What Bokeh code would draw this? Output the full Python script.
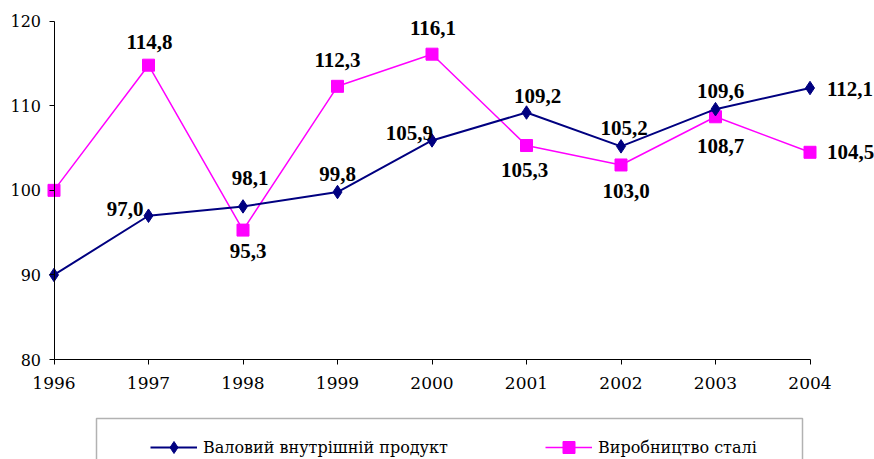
from bokeh.plotting import figure
from bokeh.models import (ColumnDataSource, FixedTicker, Legend, LegendItem,
                          BoxAnnotation, Range1d)
from bokeh.core.properties import value
from bokeh.embed import file_html
from bokeh.resources import INLINE

# ---------------- data ----------------
years = [1996, 1997, 1998, 1999, 2000, 2001, 2002, 2003, 2004]
gdp = [90.0, 97.0, 98.1, 99.8, 105.9, 109.2, 105.2, 109.6, 112.1]
steel = [100.0, 114.8, 95.3, 112.3, 116.1, 105.3, 103.0, 108.7, 104.5]
series_names = ["Валовий внутрішній продукт", "Виробництво сталі"]
y_ticks = [80, 90, 100, 110, 120]

# label placement (screen px offsets relative to each point, 1997..2004)
gdp_lbl_dx = [-5, 7, 0, 1, 11, 3, 5, 17]
gdp_lbl_dy = [-7, -28, -18, -7, -17, -18, -18, 1]
gdp_lbl_al = ["right", "center", "center", "right", "center", "center", "center", "left"]
steel_lbl_dx = [1, 5, 0, 1, -2, 5, 5, 17]
steel_lbl_dy = [-23, 21, -26, -26, 24, 26, 29, 0]
steel_lbl_al = ["center"] * 7 + ["left"]

# ---------------- layout ----------------
W, H = 874, 459
X0, X1 = 53.5, 809.5      # pixel of first / last year
Y_TOP, Y_BOT = 20.7, 359.0  # pixel of 120 / 80
px = (X1 - X0) / (years[-1] - years[0])
py = (Y_BOT - Y_TOP) / (y_ticks[-1] - y_ticks[0])
x_start = years[0] - X0 / px
x_end = years[-1] + (W - X1) / px
y_end = y_ticks[-1] + Y_TOP / py
y_start = y_ticks[0] - (H - Y_BOT) / py


def fx(pix):
    return x_start + pix / px


def fy(pix):
    return y_end - pix / py


FONT = "'Liberation Serif', 'Times New Roman', serif"
AXFONT = "DejaVu Serif"
NAVY = "#000080"
MAG = "#FF00FF"

p = figure(width=W, height=H, output_backend="svg", toolbar_location=None,
           x_range=Range1d(x_start, x_end), y_range=Range1d(y_start, y_end),
           min_border_left=0, min_border_right=0, min_border_top=0,
           min_border_bottom=0, title=None)
p.outline_line_color = None
p.xgrid.visible = False
p.ygrid.visible = False
p.background_fill_color = "white"
p.border_fill_color = "white"

# axes
xa = p.xaxis[0]
xa.fixed_location = y_ticks[0]
xa.bounds = (years[0], years[-1])
xa.ticker = FixedTicker(ticks=years)
xa.minor_tick_line_color = None
xa.major_tick_in = 0
xa.major_tick_out = 5
xa.axis_line_color = "black"
xa.major_tick_line_color = "black"
xa.major_label_text_font = AXFONT
xa.major_label_text_font_size = "17px"
xa.major_label_text_color = "black"
xa.major_label_standoff = 12

ya = p.yaxis[0]
ya.fixed_location = years[0]
ya.bounds = (y_ticks[0], y_ticks[-1])
ya.ticker = FixedTicker(ticks=y_ticks)
ya.minor_tick_line_color = None
ya.major_tick_in = 0
ya.major_tick_out = 5
ya.axis_line_color = "black"
ya.major_tick_line_color = "black"
ya.major_label_text_font = AXFONT
ya.major_label_text_font_size = "16px"
ya.major_label_text_color = "black"
ya.major_label_standoff = 8

# series
src_g = ColumnDataSource(dict(x=years, y=gdp))
src_s = ColumnDataSource(dict(x=years, y=steel))

sl = p.line("x", "y", source=src_s, line_color=MAG, line_width=1.5)
ss = p.scatter("x", "y", source=src_s, marker="square", size=12,
               fill_color=MAG, line_color=MAG)
gl = p.line("x", "y", source=src_g, line_color=NAVY, line_width=2)
gs = p.scatter("x", "y", source=src_g, marker="diamond",
               size=13.5, fill_color=NAVY, line_color=NAVY)


def fmt(v):
    return f"{v:.1f}".replace(".", ",")


lab_g = ColumnDataSource(dict(x=years[1:], y=gdp[1:], t=[fmt(v) for v in gdp[1:]],
                              dx=gdp_lbl_dx, dy=gdp_lbl_dy, al=gdp_lbl_al))
lab_s = ColumnDataSource(dict(x=years[1:], y=steel[1:], t=[fmt(v) for v in steel[1:]],
                              dx=steel_lbl_dx, dy=steel_lbl_dy, al=steel_lbl_al))
for src in (lab_g, lab_s):
    p.text("x", "y", text="t", source=src, x_offset="dx", y_offset="dy",
           text_align="al", text_baseline="middle",
           text_font=value(FONT), text_font_style="bold",
           text_font_size="21px", text_color="black")

# legend box (bottom edge falls outside the picture)
box = BoxAnnotation(left=fx(96), right=fx(802), top=fy(418), bottom=fy(490),
                    fill_alpha=0, line_color="black", line_width=1.5)
p.add_layout(box)

for label, rends, loc in ((series_names[0], [gl, gs], (150, -3)),
                          (series_names[1], [sl, ss], (545, -3))):
    lg = Legend(items=[LegendItem(label=label, renderers=rends)],
                location=loc, orientation="horizontal",
                padding=0, margin=0, spacing=0,
                glyph_width=47, glyph_height=30, label_standoff=6,
                label_text_font=AXFONT, label_text_font_size="16px",
                label_text_color="black",
                border_line_color=None, background_fill_alpha=0)
    p.add_layout(lg, "center")

open("out.html", "w").write(file_html(p, INLINE))
